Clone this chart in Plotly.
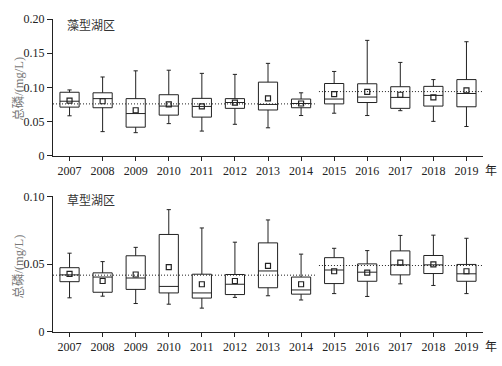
import plotly.graph_objects as go

years = ["2007", "2008", "2009", "2010", "2011", "2012", "2013",
         "2014", "2015", "2016", "2017", "2018", "2019"]

# 藻型湖区 (algae-type lake zone)
algae_low = [0.0586, 0.0355, 0.0340, 0.0472, 0.0363, 0.0462, 0.0411,
             0.0590, 0.0624, 0.0590, 0.0661, 0.0505, 0.0430]
algae_q1 = [0.0713, 0.0704, 0.0420, 0.0596, 0.0567, 0.0695, 0.0671,
            0.0704, 0.0760, 0.0780, 0.0695, 0.0728, 0.0718]
algae_med = [0.0799, 0.0837, 0.0619, 0.0728, 0.0723, 0.0780, 0.0752,
             0.0766, 0.0831, 0.0860, 0.0855, 0.0884, 0.0912]
algae_q3 = [0.0930, 0.0922, 0.0837, 0.0894, 0.0841, 0.0837, 0.1078,
            0.0831, 0.1058, 0.1054, 0.1011, 0.1016, 0.1115]
algae_high = [0.0964, 0.1153, 0.1243, 0.1252, 0.1206, 0.1191, 0.1352,
              0.0922, 0.1234, 0.1688, 0.1366, 0.1115, 0.1668]
algae_mean = [0.0808, 0.0799, 0.0667, 0.0752, 0.0725, 0.0780, 0.0841,
              0.0766, 0.0902, 0.0936, 0.0894, 0.0855, 0.0959]
algae_period_mean = [0.0760, 0.0940]

# 草型湖区 (grass-type lake zone)
grass_low = [0.0252, 0.0264, 0.0210, 0.0205, 0.0176, 0.0255, 0.0267,
             0.0236, 0.0283, 0.0262, 0.0355, 0.0343, 0.0283]
grass_q1 = [0.0371, 0.0293, 0.0314, 0.0288, 0.0250, 0.0276, 0.0326,
            0.0279, 0.0357, 0.0374, 0.0421, 0.0431, 0.0374]
grass_med = [0.0421, 0.0405, 0.0398, 0.0336, 0.0288, 0.0352, 0.0450,
             0.0310, 0.0457, 0.0441, 0.0495, 0.0495, 0.0429]
grass_q3 = [0.0474, 0.0436, 0.0562, 0.0719, 0.0426, 0.0424, 0.0657,
            0.0405, 0.0548, 0.0502, 0.0598, 0.0564, 0.0498]
grass_high = [0.0581, 0.0519, 0.0624, 0.0902, 0.0767, 0.0662, 0.0826,
              0.0574, 0.0617, 0.0600, 0.0712, 0.0714, 0.0691]
grass_mean = [0.0429, 0.0376, 0.0424, 0.0479, 0.0352, 0.0376, 0.0488,
              0.0352, 0.0448, 0.0438, 0.0512, 0.0498, 0.0448]
grass_period_mean = [0.0419, 0.0490]

# periods: index ranges of years (2007-2014, 2015-2019)
periods = [(0, 7), (8, 12)]

idx = list(range(len(years)))
INK = "#222222"
FONT = "'Liberation Serif', 'Times New Roman', 'Noto Sans CJK SC', serif"

fig = go.Figure()


def add_panel(low, q1, med, q3, high, mean, pmeans, xa, ya):
    for k, ((a, b), pm) in enumerate(zip(periods, pmeans)):
        x0 = a - 0.5 if k == 0 else a - 0.46
        x1 = b + 0.42 if k == 0 else b + 0.5
        fig.add_trace(go.Scatter(
            x=[x0, x1], y=[pm, pm], mode="lines",
            line=dict(color=INK, width=1, dash="1px,2px"),
            xaxis=xa, yaxis=ya, showlegend=False, hoverinfo="skip"))
    fig.add_trace(go.Box(
        x=idx, q1=q1, median=med, q3=q3, lowerfence=low, upperfence=high,
        width=0.58, whiskerwidth=0.22, fillcolor="rgba(255,255,255,0)",
        line=dict(color=INK, width=1), boxpoints=False,
        xaxis=xa, yaxis=ya, showlegend=False, hoverinfo="skip"))
    fig.add_trace(go.Scatter(
        x=idx, y=mean, mode="markers",
        marker=dict(symbol="square-open", size=5, color=INK,
                    line=dict(width=1.2, color=INK)),
        xaxis=xa, yaxis=ya, showlegend=False, hoverinfo="skip"))


add_panel(algae_low, algae_q1, algae_med, algae_q3, algae_high,
          algae_mean, algae_period_mean, "x", "y")
add_panel(grass_low, grass_q1, grass_med, grass_q3, grass_high,
          grass_mean, grass_period_mean, "x2", "y2")

xcommon = dict(range=[-0.5, 12.5], tickvals=idx, ticktext=years,
               showline=True, linecolor=INK, linewidth=1, ticks="outside",
               ticklen=4, tickcolor=INK, showgrid=False, zeroline=False,
               tickfont=dict(family=FONT, size=12, color=INK))
ycommon = dict(showline=True, linecolor=INK, linewidth=1, ticks="outside",
               ticklen=5, tickcolor=INK, showgrid=False, zeroline=False,
               tickfont=dict(family=FONT, size=12, color=INK))

fig.update_layout(
    width=502, height=366,
    margin=dict(l=53, r=19, t=16, b=27),
    paper_bgcolor="white", plot_bgcolor="white",
    font=dict(family=FONT, size=12, color=INK),
    hovermode=False,
    xaxis=dict(anchor="y", **xcommon),
    xaxis2=dict(anchor="y2", **xcommon),
    yaxis=dict(domain=[0.5625, 1.0], range=[0, 0.20],
               tickvals=[0, 0.05, 0.10, 0.15, 0.20],
               ticktext=["0", "0.05", "0.10", "0.15", "0.20"],
               anchor="x", **ycommon),
    yaxis2=dict(domain=[0.0, 0.4334], range=[0, 0.10],
                tickvals=[0, 0.05, 0.10],
                ticktext=["0", "0.05", "0.10"],
                anchor="x2", **ycommon),
)

ann = [
    dict(text="藻型湖区", x=0.0275, y=21.7),
    dict(text="草型湖区", x=0.0275, y=202.3),
]
for a in ann:
    fig.add_annotation(text=a["text"], xref="paper", yref="paper",
                       x=a["x"], y=1 - (a["y"] - 16) / 323,
                       xanchor="left", yanchor="middle",
                       showarrow=False,
                       font=dict(family="Noto Sans CJK SC", size=12, color="#333333"))

for yc in [88, 271.5]:
    fig.add_annotation(text="总磷/(mg/L)", xref="paper", yref="paper",
                       x=(19 - 53) / 430, y=1 - (yc - 16) / 323,
                       xanchor="center", yanchor="middle", textangle=-90,
                       showarrow=False,
                       font=dict(family=FONT, size=12.5, color="#777777"))

for yc in [171, 353]:
    fig.add_annotation(text="年", xref="paper", yref="paper",
                       x=(483 - 53) / 430, y=1 - (yc - 16) / 323,
                       xanchor="left", yanchor="middle", showarrow=False,
                       font=dict(family="Noto Sans CJK SC", size=12, color=INK))

fig.write_html("out.html",
               config={"displayModeBar": False, "staticPlot": True},
               post_script="document.body.style.margin='0';"
                           "document.body.style.overflow='hidden';")
